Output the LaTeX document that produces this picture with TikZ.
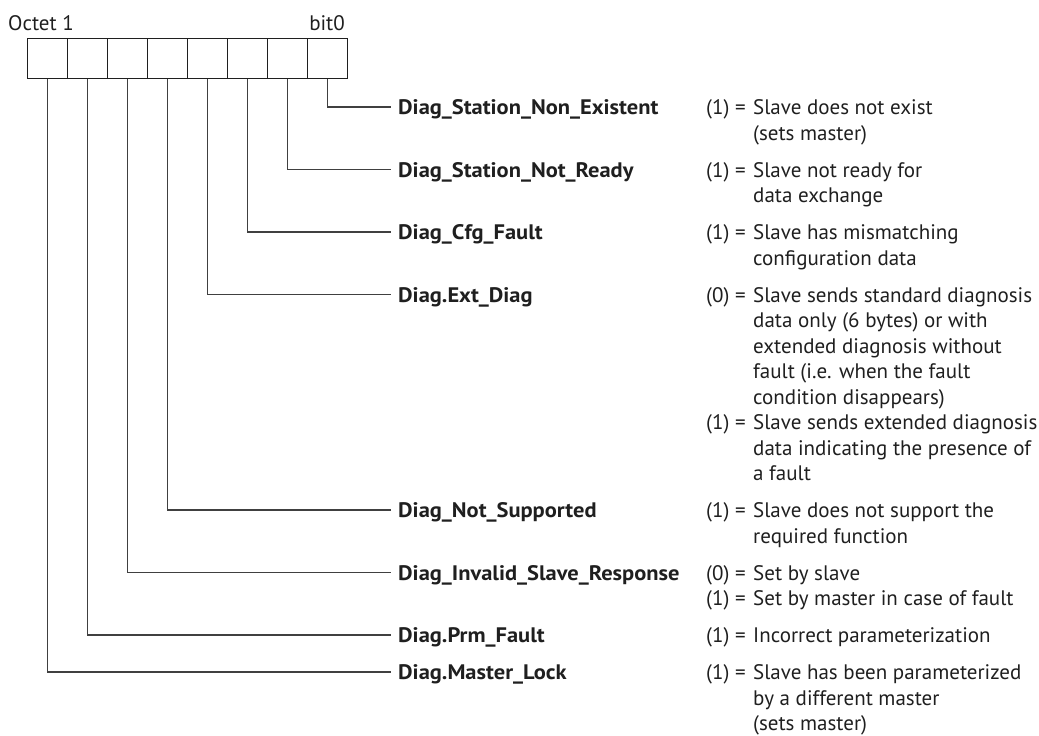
\documentclass[tikz,border=0pt]{standalone}
\usepackage{fontspec}
\setmainfont{PT Sans}
\newfontfamily\lblfont{PT Sans}[FakeStretch=1.07]

\begin{document}
\begin{tikzpicture}[x=1pt, y=-1pt,
    font=\fontsize{21}{25.5}\selectfont, color=black!88,
    cell/.style={draw, line width=1.3pt, minimum width=40pt, minimum height=40pt, inner sep=0pt, anchor=north west},
    lead/.style={line width=1.2pt, black!75},
    lbl/.style={anchor=base west, inner sep=0pt, font=\fontsize{21}{25.5}\lblfont\bfseries},
    desc/.style={anchor=base west, inner sep=0pt}]
    \useasboundingbox (0,0) rectangle (1039,736);

    \node[anchor=base west, inner sep=0pt] (octet) at (8,30) {Octet 1};
    \node[anchor=base east, inner sep=0pt] (bitzero) at (345,30) {bit0};

    % the eight bits, bit0 on the right
    \foreach \i in {0,...,7}
        \node[cell] (b\i) at ({27+40*(7-\i)},38) {};

    \coordinate (e0) at (391,107);
    \node[lbl] (l0) at (398,114.7) {Diag\_Station\_Non\_Existent};
    \node[desc] (d0) at (706,114.7) {\begin{tabular}[t]{@{}p{47pt}@{}l@{}}(1) = & Slave does not exist\\ & (sets master)\end{tabular}};
    \draw[lead] (b0.south) |- (e0);

    \coordinate (e1) at (391,169.5);
    \node[lbl] (l1) at (398,177.2) {Diag\_Station\_Not\_Ready};
    \node[desc] (d1) at (706,177.2) {\begin{tabular}[t]{@{}p{47pt}@{}l@{}}(1) = & Slave not ready for\\ & data exchange\end{tabular}};
    \draw[lead] (b1.south) |- (e1);

    \coordinate (e2) at (391,232);
    \node[lbl] (l2) at (398,239.7) {Diag\_Cfg\_Fault};
    \node[desc] (d2) at (706,239.7) {\begin{tabular}[t]{@{}p{47pt}@{}l@{}}(1) = & Slave has mismatching\\ & configuration data\end{tabular}};
    \draw[lead] (b2.south) |- (e2);

    \coordinate (e3) at (391,294.5);
    \node[lbl] (l3) at (398,302.2) {Diag.Ext\_Diag};
    \node[desc] (d3) at (706,302.2) {\begin{tabular}[t]{@{}p{47pt}@{}l@{}}(0) = & Slave sends standard diagnosis\\ & data only (6 bytes) or with\\ & extended diagnosis without\\ & fault (i.e. when the fault\\ & condition disappears)\\
        (1) = & Slave sends extended diagnosis\\ & data indicating the presence of\\ & a fault\end{tabular}};
    \draw[lead] (b3.south) |- (e3);

    \coordinate (e4) at (391,510);
    \node[lbl] (l4) at (398,517.7) {Diag\_Not\_Supported};
    \node[desc] (d4) at (706,517.7) {\begin{tabular}[t]{@{}p{47pt}@{}l@{}}(1) = & Slave does not support the\\ & required function\end{tabular}};
    \draw[lead] (b4.south) |- (e4);

    \coordinate (e5) at (391,572.5);
    \node[lbl] (l5) at (398,580.2) {Diag\_Invalid\_Slave\_Response};
    \node[desc] (d5) at (706,580.2) {\begin{tabular}[t]{@{}p{47pt}@{}l@{}}(0) = & Set by slave\\ (1) = & Set by master in case of fault\end{tabular}};
    \draw[lead] (b5.south) |- (e5);

    \coordinate (e6) at (391,635);
    \node[lbl] (l6) at (398,642.7) {Diag.Prm\_Fault};
    \node[desc] (d6) at (706,642.7) {\begin{tabular}[t]{@{}p{47pt}@{}l@{}}(1) = & Incorrect parameterization\end{tabular}};
    \draw[lead] (b6.south) |- (e6);

    \coordinate (e7) at (391,672);
    \node[lbl] (l7) at (398,679.7) {Diag.Master\_Lock};
    \node[desc] (d7) at (706,679.7) {\begin{tabular}[t]{@{}p{47pt}@{}l@{}}(1) = & Slave has been parameterized\\ & by a different master\\ & (sets master)\end{tabular}};
    \draw[lead] (b7.south) |- (e7);

\end{tikzpicture}
\end{document}
